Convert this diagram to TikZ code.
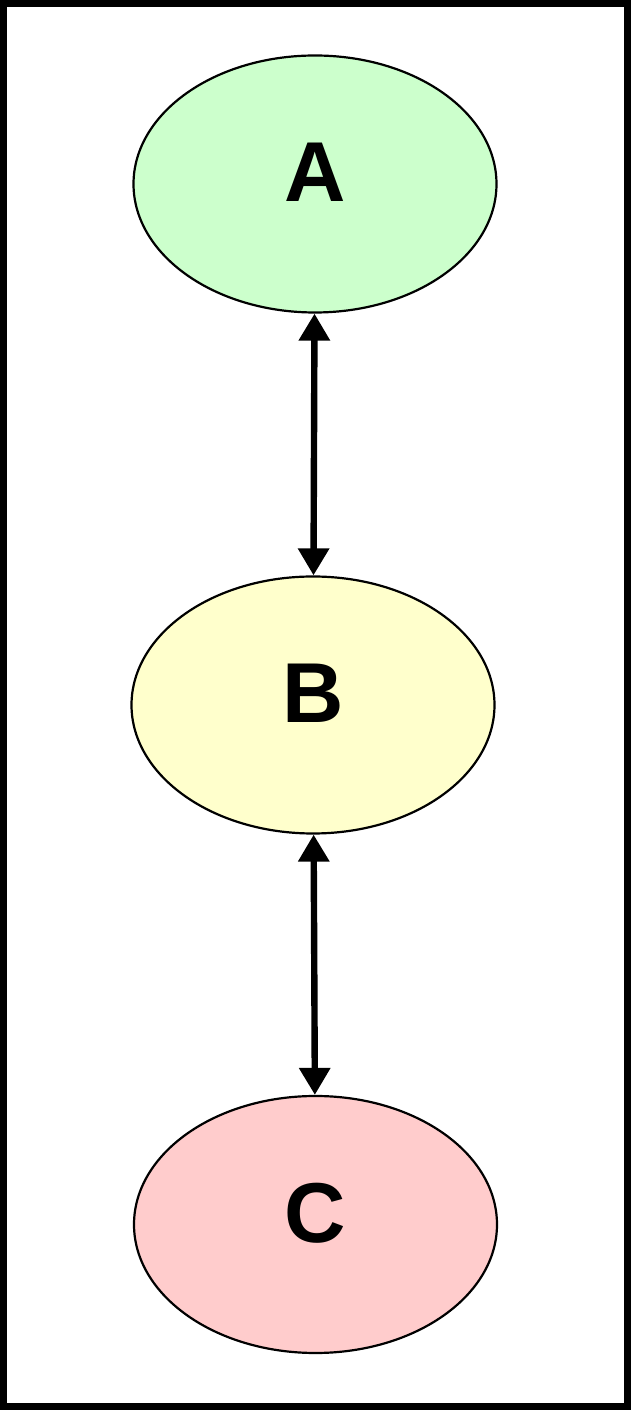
\documentclass[tikz,border=0pt]{standalone}
\usepackage{fontspec}
\setmainfont{Liberation Sans}
\usepackage{tikz}
\usetikzlibrary{arrows.meta,shapes.geometric}
\usepackage{xcolor}
\definecolor{greenfill}{HTML}{CCFFCC}
\definecolor{yellowfill}{HTML}{FFFFCC}
\definecolor{redfill}{HTML}{FFCCCC}

\begin{document}
\begin{tikzpicture}[x=1pt,y=1pt,
  state/.style={ellipse, draw, line width=1.1pt, minimum width=181.5pt, minimum height=128.5pt, inner sep=0pt, text depth=11.5pt, font=\fontsize{42.5}{45}\selectfont\bfseries},
  link/.style={line width=3.2pt, {Triangle[length=13.5pt,width=15pt]}-{Triangle[length=13.5pt,width=15pt]}}]
\useasboundingbox (0,0) rectangle (315.5,705);
\draw[line width=3.5pt] (1.75,1.75) rectangle (313.75,703.25);
\node[state, fill=greenfill] (A) at (157.5,613) {A};
\node[state, fill=yellowfill] (B) at (156.5,352.5) {B};
\node[state, fill=redfill] (C) at (157.75,92.75) {C};
\draw[link] (A) -- (B);
\draw[link] (B) -- (C);
\end{tikzpicture}
\end{document}
